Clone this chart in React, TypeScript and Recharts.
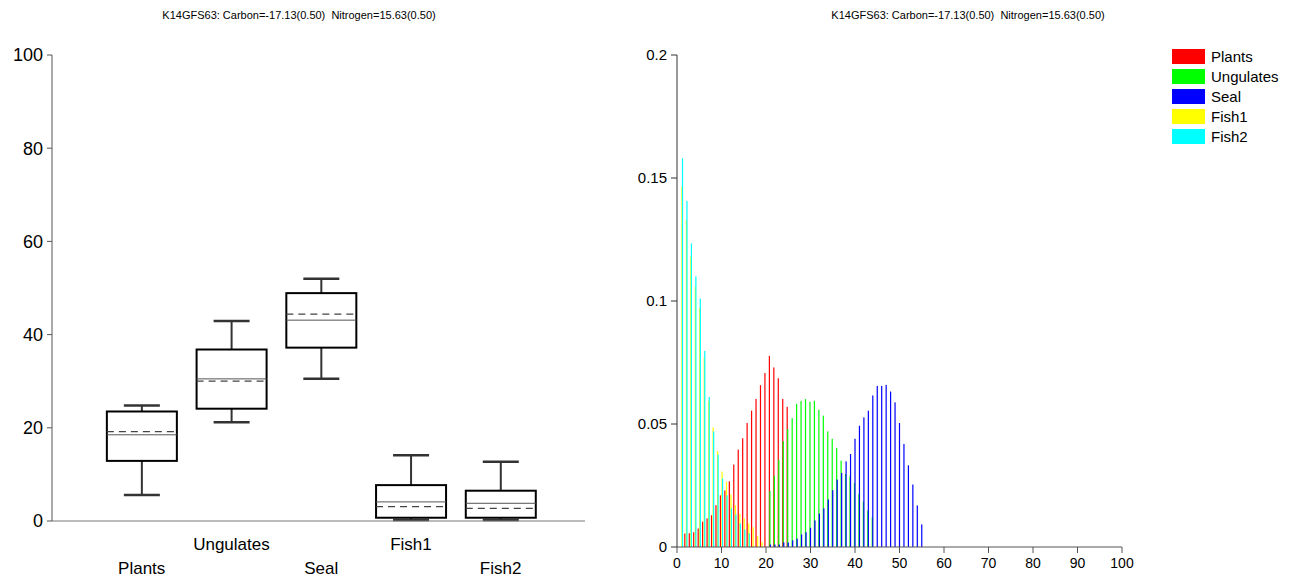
import React from "react";
import { BarChart, Bar, XAxis, YAxis } from "recharts";

const title = "K14GFS63: Carbon=-17.13(0.50)  Nitrogen=15.63(0.50)";
const font = "'Liberation Sans', Arial, sans-serif";

// fuentes / colores
const sources = ["Plants", "Ungulates", "Seal", "Fish1", "Fish2"];
const sourceKeys = ["plants", "ungulates", "seal", "fish1", "fish2"];
const sourceColors = ["#ff0000", "#00ff00", "#0000ff", "#ffff00", "#00ffff"];

// caja izquierda (%)
const boxMin = [5.6, 21.2, 30.5, 0.2, 0.2];
const boxQ1 = [12.9, 24.1, 37.2, 0.7, 0.7];
const boxMedian = [18.5, 30.5, 43.1, 4.1, 3.8];
const boxMean = [19.2, 30.0, 44.4, 3.1, 2.7];
const boxQ3 = [23.5, 36.8, 48.9, 7.7, 6.5];
const boxMax = [24.8, 42.9, 52.0, 14.1, 12.7];
const boxTicks = [0, 20, 40, 60, 80, 100];

// histograma derecho: primer bin y probabilidades
const plantsStart = 2;
const plantsProb = [0.0055, 0.0056, 0.006, 0.0075, 0.0103, 0.0116, 0.0129, 0.017, 0.021, 0.023, 0.0267, 0.0335, 0.0396, 0.0442, 0.0504, 0.0554, 0.0602, 0.0658, 0.0707, 0.0777, 0.073, 0.0686, 0.0602, 0.057];
const ungulatesStart = 21;
const ungulatesProb = [0.0227, 0.029, 0.0355, 0.043, 0.048, 0.0524, 0.0582, 0.0594, 0.0601, 0.059, 0.0594, 0.0558, 0.0534, 0.047, 0.044, 0.0403, 0.0351, 0.0297, 0.0288, 0.026, 0.0216, 0.0185, 0.0148, 0.0121];
const sealStart = 21;
const sealProb = [0.001, 0.001, 0.001, 0.0019, 0.0018, 0.0027, 0.0034, 0.0051, 0.006, 0.0078, 0.0108, 0.0136, 0.0157, 0.0193, 0.0231, 0.0274, 0.0301, 0.0348, 0.0378, 0.044, 0.0493, 0.0527, 0.0554, 0.0616, 0.0655, 0.0655, 0.0659, 0.0632, 0.0588, 0.0504, 0.0419, 0.0332, 0.0254, 0.0169, 0.0092];
const fish1Start = 1;
const fish1Prob = [0.1466, 0.133, 0.118, 0.1058, 0.0973, 0.077, 0.0594, 0.0486, 0.039, 0.0307, 0.0265, 0.0213, 0.017, 0.0135, 0.0116, 0.0096, 0.008, 0.0044, 0.002];
const fish2Start = 1;
const fish2Prob = [0.158, 0.1407, 0.1234, 0.11, 0.101, 0.0797, 0.061, 0.047, 0.0375, 0.0278, 0.021, 0.0157, 0.0132, 0.0096, 0.0071, 0.0055];
const histXTicks = [0, 10, 20, 30, 40, 50, 60, 70, 80, 90, 100];
const histYTicks = [0, 0.05, 0.1, 0.15, 0.2];

const boxData = sources.map((name, i) => ({
  pos: i + 1,
  name,
  min: boxMin[i],
  q1: boxQ1[i],
  median: boxMedian[i],
  mean: boxMean[i],
  q3: boxQ3[i],
  max: boxMax[i],
}));

const seriesList = [
  { start: plantsStart, prob: plantsProb },
  { start: ungulatesStart, prob: ungulatesProb },
  { start: sealStart, prob: sealProb },
  { start: fish1Start, prob: fish1Prob },
  { start: fish2Start, prob: fish2Prob },
];

const histData: any[] = [];
for (let bin = 1; bin <= 55; bin++) {
  const row: any = { bin };
  seriesList.forEach((s, i) => {
    const v = s.prob[bin - s.start];
    row[sourceKeys[i]] = v === undefined ? null : v;
  });
  histData.push(row);
}

function BoxShape(props: any) {
  const { x, y, width, height, payload } = props;
  const { min, q1, median, mean, q3, max } = payload;
  const py = (v: number) => y + ((max - v) / (max - min)) * height;
  const cx = x + width / 2;
  const cap = 18;
  const wh = "#333";
  return (
    <g>
      <line x1={cx} x2={cx} y1={py(max)} y2={py(q3)} stroke={wh} strokeWidth={2} />
      <line x1={cx} x2={cx} y1={py(q1)} y2={py(min)} stroke={wh} strokeWidth={2} />
      <line x1={cx - cap} x2={cx + cap} y1={py(max)} y2={py(max)} stroke={wh} strokeWidth={2.5} />
      <line x1={cx - cap} x2={cx + cap} y1={py(min)} y2={py(min)} stroke={wh} strokeWidth={2.5} />
      <rect x={x} y={py(q3)} width={width} height={py(q1) - py(q3)} fill="#fff" stroke="#000" strokeWidth={2} />
      <line x1={x} x2={x + width} y1={py(median)} y2={py(median)} stroke="#555" strokeWidth={1} />
      <line x1={x} x2={x + width} y1={py(mean)} y2={py(mean)} stroke="#444" strokeWidth={1.3} strokeDasharray="7 5" />
    </g>
  );
}

function CategoryTick(props: any) {
  const { x, y, payload } = props;
  const i = payload.value - 1;
  const low = i % 2 === 0;
  return (
    <text x={x} y={y + (low ? 45 : 21)} textAnchor="middle" fontSize={17} fontFamily={font} fill="#000">
      {sources[i]}
    </text>
  );
}

function HistLegend() {
  return (
    <div style={{ fontFamily: font, fontSize: 15, color: "#000" }}>
      {sources.map((name, i) => (
        <div key={name} style={{ display: "flex", alignItems: "center", height: 20 }}>
          <span style={{ display: "inline-block", width: 33, height: 15, background: sourceColors[i], marginRight: 6 }} />
          <span>{name}</span>
        </div>
      ))}
    </div>
  );
}

const titleStyle: React.CSSProperties = {
  position: "absolute",
  top: 8,
  fontFamily: font,
  fontSize: 11,
  lineHeight: "14px",
  color: "#000",
  whiteSpace: "pre",
  transform: "translateX(-50%)",
};

export default function App() {
  return (
    <div style={{ position: "absolute", left: 0, top: 0, width: 1293, height: 580, background: "#fff" }}>
      <div style={{ ...titleStyle, left: 299 }}>{title}</div>
      <div style={{ ...titleStyle, left: 968 }}>{title}</div>

      <div style={{ position: "absolute", left: 0, top: 0 }}>
        <BarChart width={600} height={580} data={boxData} margin={{ top: 55, right: 15, bottom: 9, left: 0 }}>
          <XAxis
            type="number"
            dataKey="pos"
            domain={[0, 5.94]}
            ticks={[1, 2, 3, 4, 5]}
            tickLine={false}
            height={50}
            stroke="#777"
            tick={<CategoryTick />}
            interval={0}
          />
          <YAxis
            domain={[0, 100]}
            ticks={boxTicks}
            width={52}
            stroke="#555"
            tickSize={5}
            tickMargin={4}
            tick={{ fontSize: 18, fill: "#000", fontFamily: font }}
          />
          <Bar
            dataKey={(d: any) => [d.min, d.max]}
            barSize={70}
            shape={<BoxShape />}
            isAnimationActive={false}
          />
        </BarChart>
      </div>

      <div style={{ position: "absolute", left: 600, top: 0 }}>
        <BarChart
          width={693}
          height={580}
          data={histData}
          margin={{ top: 55, right: 171, bottom: 3, left: 0 }}
          barGap={0}
          barCategoryGap="20%"
        >
          <XAxis
            type="number"
            dataKey="bin"
            domain={[0, 100]}
            ticks={histXTicks}
            height={30}
            stroke="#555"
            tickSize={6}
            tickMargin={5}
            tick={{ fontSize: 14, fill: "#000", fontFamily: font }}
          />
          <YAxis
            domain={[0, 0.2]}
            ticks={histYTicks}
            width={77}
            stroke="#333"
            tickSize={6}
            tickMargin={4}
            tick={{ fontSize: 15, fill: "#000", fontFamily: font }}
          />
          {sourceKeys.map((key, i) => (
            <Bar
              key={key}
              dataKey={key}
              name={sources[i]}
              fill={sourceColors[i]}
              isAnimationActive={false}
              shape={(p: any) =>
                p.height > 0 ? (
                  <rect x={p.x + p.width / 2 - 0.6} y={p.y} width={1.2} height={p.height} fill={sourceColors[i]} />
                ) : (
                  <g />
                )
              }
            />
          ))}
        </BarChart>
      </div>

      <div style={{ position: "absolute", left: 1172, top: 46 }}>
        <HistLegend />
      </div>
    </div>
  );
}
